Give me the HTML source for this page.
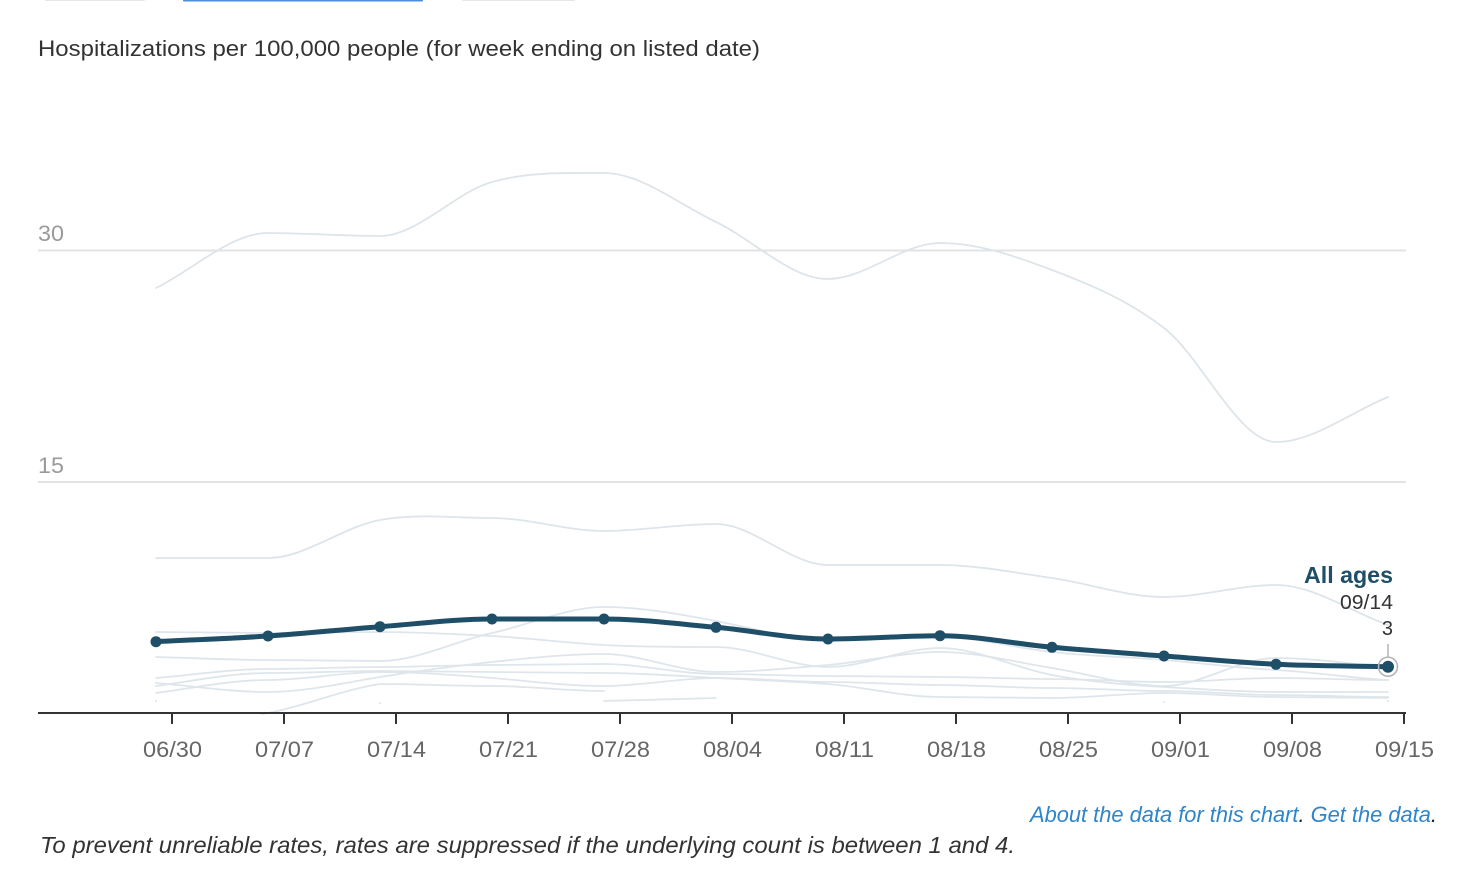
<!DOCTYPE html>
<html>
<head>
<meta charset="utf-8">
<style>
  html, body { margin:0; padding:0; background:#fff; }
  body { width:1460px; height:870px; overflow:hidden; position:relative; font-family:"Liberation Sans", Arial, Helvetica, sans-serif; }
  svg { position:absolute; left:0; top:0; }
</style>
</head>
<body>
<svg width="1460" height="870" viewBox="0 0 1460 870" xmlns="http://www.w3.org/2000/svg">
  <!-- top tabs remnants -->
  <rect x="45" y="-2" width="100" height="3" rx="1" fill="#e6e6e6"/>
  <rect x="183" y="-2" width="240" height="3.5" rx="1" fill="#4a90d9"/>
  <rect x="462" y="-2" width="113" height="3" rx="1" fill="#e6e6e6"/>

  <!-- title -->
  <text x="38" y="56" font-size="22" fill="#333" textLength="722" lengthAdjust="spacingAndGlyphs">Hospitalizations per 100,000 people (for week ending on listed date)</text>

  <!-- gridlines -->
  <line x1="38" y1="250.5" x2="1406" y2="250.5" stroke="#e3e3e3" stroke-width="2"/>
  <line x1="38" y1="482" x2="1406" y2="482" stroke="#e3e3e3" stroke-width="2"/>
  <text x="38" y="241" font-size="22" fill="#9a9a9a" textLength="26" lengthAdjust="spacingAndGlyphs">30</text>
  <text x="38" y="473" font-size="22" fill="#9a9a9a" textLength="26" lengthAdjust="spacingAndGlyphs">15</text>

  <!-- faint series -->
  <g fill="none" stroke="#dde5ea" stroke-width="1.8" stroke-linejoin="round" stroke-linecap="round">
    <path d="M156,288 C193.3,269.7 230.7,233 268,233 C305.3,233 342.7,236 380,236 C417.3,236 454.7,192.5 492,182 C529.3,171.5 566.7,173 604,173 C641.3,173 678.7,204.3 716,222 C753.3,239.7 790.7,279 828,279 C865.3,279 902.7,243 940,243 C977.3,243 1014.7,255.8 1052,270 C1089.3,284.2 1126.7,299.3 1164,328 C1201.3,356.7 1238.7,442 1276,442 C1313.3,442 1350.7,412 1388,397"/>
    <path d="M156,558 C193.3,558 230.7,558 268,558 C305.3,558 342.7,526.7 380,520 C417.3,513.3 454.7,518 492,518 C529.3,518 566.7,531 604,531 C641.3,531 678.7,524 716,524 C753.3,524 790.7,565 828,565 C865.3,565 902.7,565 940,565 C977.3,565 1014.7,572.7 1052,578 C1089.3,583.3 1126.7,597 1164,597 C1201.3,597 1238.7,585 1276,585 C1313.3,585 1350.7,611.7 1388,625"/>
  </g>
  <g fill="none" stroke="#d9e2e8" stroke-width="1.8" stroke-linejoin="round" stroke-linecap="round" opacity="0.85">
    <path d="M156,657 C193,658 231,660 268,660 C305,660 343,661 380,661 C417,661 455,641 492,633 C529,625 567,607 604,607 C641,607 679,614 716,621 C753,628 791,640 828,640 C865,640 903,637 940,637 C977,637 1015,648 1052,652 C1089,656 1127,657 1164,660 C1201,663 1239,668 1276,670 C1313,672 1351,678 1388,680"/>
    <path d="M156,632 C193,632 231,633 268,633 C305,633 343,632 380,632 C417,632 455,634 492,636 C529,638 567,643 604,645 C641,647 679,647 716,647 C753,647 791,667 828,667 C865,667 903,648 940,648 C977,648 1015,668 1052,675 C1089,682 1127,685 1164,687 C1201,689 1239,692 1276,692 C1313,692 1351,692 1388,692"/>
    <path d="M156,683 C193,686 231,692 268,692 C305,692 343,683 380,677 C417,671 455,666 492,662 C529,658 567,654 604,654 C641,654 679,672 716,672 C753,672 791,668 828,665 C865,662 903,652 940,652 C977,652 1015,662 1052,668 C1089,674 1127,686 1164,686 C1201,686 1239,658 1276,658 C1313,658 1351,664 1388,667"/>
    <path d="M156,678 C193,675 231,669 268,669 C305,669 343,667 380,667 C417,667 455,665 492,665 C529,665 567,664 604,664 C641,664 679,674 716,674 C753,674 791,676 828,676 C865,676 903,677 940,677 C977,677 1015,679 1052,679 C1089,679 1127,682 1164,682 C1201,682 1239,678 1276,678 C1313,678 1351,680 1388,680"/>
    <path d="M156,686 C193,681 231,673 268,673 C305,673 343,671 380,671 C417,671 455,672 492,672 C529,672 567,673 604,673 C641,673 679,676 716,678 C753,680 791,681 828,684 C865,687 903,697 940,697 C977,697 1015,698 1052,698 C1089,698 1127,693 1164,693 C1201,693 1239,697 1276,697 C1313,697 1351,698 1388,698"/>
    <path d="M156,693 C193,688 231,680 268,680 C305,680 343,672 380,672 C417,672 455,675 492,678 C529,681 567,686 604,686 C641,686 679,678 716,678 C753,678 791,682 828,682 C865,682 903,685 940,685 C977,685 1015,688 1052,688 C1089,688 1127,691 1164,691 C1201,691 1239,695 1276,695 C1313,695 1351,697 1388,697"/>
    <path d="M262,714 C300,708 340,690 380,684 C417,684 455,686 492,686 C529,686 567,691 604,691"/>
    <path d="M604,701 C641,700 679,699 716,698"/>
  </g>
  <g fill="#dbe3e9">
    <circle cx="156" cy="701" r="1"/>
    <circle cx="380" cy="703" r="1"/>
    <circle cx="1164" cy="702" r="1"/>
    <circle cx="1388" cy="701" r="1"/>
  </g>

  <!-- axis -->
  <line x1="38" y1="713" x2="1406" y2="713" stroke="#333" stroke-width="2"/>
  <g stroke="#333" stroke-width="2">
    <line x1="172" y1="713" x2="172" y2="724"/>
    <line x1="284" y1="713" x2="284" y2="724"/>
    <line x1="396" y1="713" x2="396" y2="724"/>
    <line x1="508" y1="713" x2="508" y2="724"/>
    <line x1="620" y1="713" x2="620" y2="724"/>
    <line x1="732" y1="713" x2="732" y2="724"/>
    <line x1="844" y1="713" x2="844" y2="724"/>
    <line x1="956" y1="713" x2="956" y2="724"/>
    <line x1="1068" y1="713" x2="1068" y2="724"/>
    <line x1="1180" y1="713" x2="1180" y2="724"/>
    <line x1="1292" y1="713" x2="1292" y2="724"/>
    <line x1="1404" y1="713" x2="1404" y2="724"/>
  </g>
  <g font-size="22" fill="#666">
    <text x="143" y="757" textLength="59" lengthAdjust="spacingAndGlyphs">06/30</text>
    <text x="255" y="757" textLength="59" lengthAdjust="spacingAndGlyphs">07/07</text>
    <text x="367" y="757" textLength="59" lengthAdjust="spacingAndGlyphs">07/14</text>
    <text x="479" y="757" textLength="59" lengthAdjust="spacingAndGlyphs">07/21</text>
    <text x="591" y="757" textLength="59" lengthAdjust="spacingAndGlyphs">07/28</text>
    <text x="703" y="757" textLength="59" lengthAdjust="spacingAndGlyphs">08/04</text>
    <text x="815" y="757" textLength="59" lengthAdjust="spacingAndGlyphs">08/11</text>
    <text x="927" y="757" textLength="59" lengthAdjust="spacingAndGlyphs">08/18</text>
    <text x="1039" y="757" textLength="59" lengthAdjust="spacingAndGlyphs">08/25</text>
    <text x="1151" y="757" textLength="59" lengthAdjust="spacingAndGlyphs">09/01</text>
    <text x="1263" y="757" textLength="59" lengthAdjust="spacingAndGlyphs">09/08</text>
    <text x="1375" y="757" textLength="59" lengthAdjust="spacingAndGlyphs">09/15</text>
  </g>

  <!-- main series -->
  <path d="M156,641.7 C193.3,639.8 230.7,638.5 268,636 C305.3,633.5 342.7,629.5 380,626.7 C417.3,623.9 454.7,619 492,619 C529.3,619 566.7,619 604,619 C641.3,619 678.7,624 716,627.3 C753.3,630.6 790.7,639 828,639 C865.3,639 902.7,635.7 940,635.7 C977.3,635.7 1014.7,643.9 1052,647.3 C1089.3,650.7 1126.7,653.2 1164,656 C1201.3,658.8 1238.7,662.5 1276,664.3 C1313.3,666.1 1350.7,665.9 1388,666.7" fill="none" stroke="#1f4f68" stroke-width="5" stroke-linejoin="round" stroke-linecap="round"/>
  <g fill="#1f4f68">
    <circle cx="156" cy="641.7" r="5.5"/>
    <circle cx="268" cy="636" r="5.5"/>
    <circle cx="380" cy="626.7" r="5.5"/>
    <circle cx="492" cy="619" r="5.5"/>
    <circle cx="604" cy="619" r="5.5"/>
    <circle cx="716" cy="627.3" r="5.5"/>
    <circle cx="828" cy="639" r="5.5"/>
    <circle cx="940" cy="635.7" r="5.5"/>
    <circle cx="1052" cy="647.3" r="5.5"/>
    <circle cx="1164" cy="656" r="5.5"/>
    <circle cx="1276" cy="664.3" r="5.5"/>
    <circle cx="1388" cy="666.7" r="6"/>
  </g>
  <circle cx="1388" cy="666.7" r="9.5" fill="none" stroke="#b5b5b5" stroke-width="1.6"/>
  <line x1="1388" y1="644" x2="1388" y2="657" stroke="#b5b5b5" stroke-width="1.5"/>

  <!-- annotation -->
  <text x="1304" y="583" font-size="23" font-weight="bold" fill="#1f4f68" textLength="89" lengthAdjust="spacingAndGlyphs">All ages</text>
  <text x="1340" y="609" font-size="20" fill="#333" textLength="53" lengthAdjust="spacingAndGlyphs">09/14</text>
  <text x="1393" y="635" font-size="20" fill="#333" text-anchor="end">3</text>

  <!-- footer -->
  <text x="1030" y="822" font-size="22" font-style="italic" fill="#222" textLength="407" lengthAdjust="spacingAndGlyphs"><tspan fill="#2f85c9">About the data for this chart</tspan>. <tspan fill="#2f85c9">Get the data</tspan>.</text>
  <text x="40" y="853" font-size="23" font-style="italic" fill="#333" textLength="975" lengthAdjust="spacingAndGlyphs">To prevent unreliable rates, rates are suppressed if the underlying count is between 1 and 4.</text>
</svg>
</body>
</html>
